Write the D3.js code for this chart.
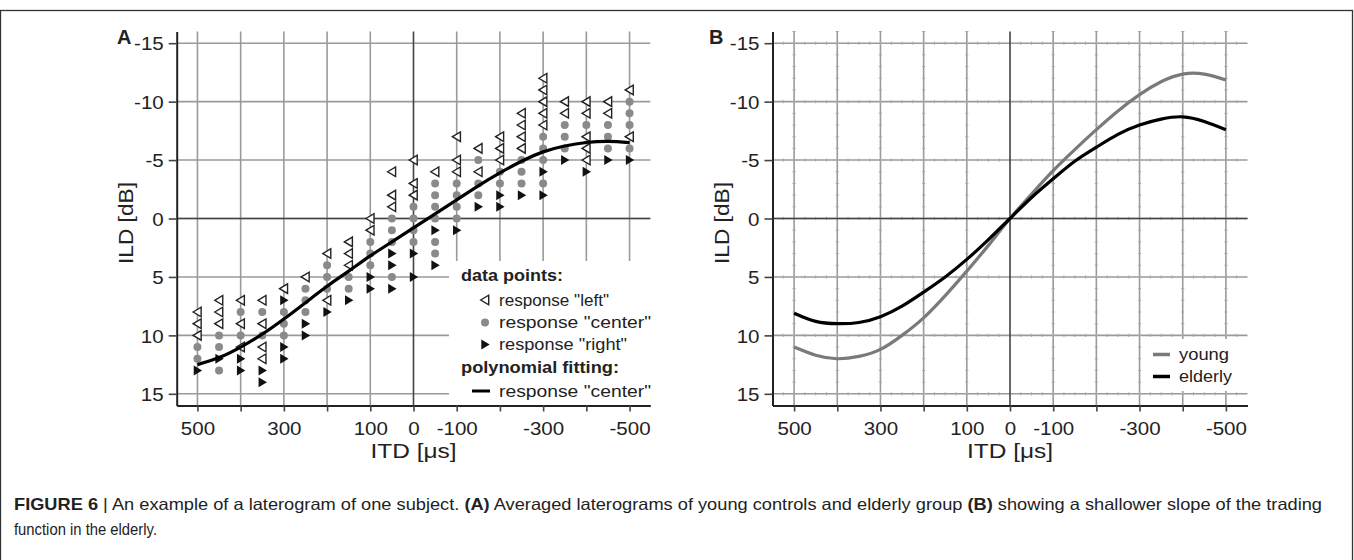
<!DOCTYPE html>
<html><head><meta charset="utf-8">
<script src="https://cdn.jsdelivr.net/npm/d3@7"></script>
<style>
body{margin:0;background:#fff}
svg{display:block}
text{font-family:"Liberation Sans",Arial,Helvetica,sans-serif;fill:#222}
</style>
</head><body>
<svg id="c" width="1354" height="560"></svg>
<script>
// ---------- data ----------
const itdTicks  = [500,400,300,200,100,0,-100,-200,-300,-400,-500];
const itdLabels = ["500","","300","","100","0","-100","","-300","","-500"];
const ildTicks  = [-15,-10,-5,0,5,10,15];
const ildLabels = ["-15","-10","-5","0","5","10","15"];

// Panel A: one column of responses per ITD value
const colITD = [500,450,400,350,300,250,200,150,100,50,0,-50,-100,-150,-200,-250,-300,-350,-400,-450,-500];
const respLeft = [
  [8,9,10],[7,8,9],[7,9,11],[7,9,11,12],[6],[5],[3,7],[2,3,4],[0,1],[-4,-2,-1],[-5,-3,-2],
  [-4],[-7,-5,-4],[-6,-4],[-7,-6,-5],[-9,-8,-7,-6],[-12,-11,-10,-9,-8],[-10,-9],[-10,-9,-7,-6,-5],[-10,-9],[-11,-7]
];
const respCenter = [
  [11,12],[10,11,13],[8,10],[8,10],[8,9,10],[6,7,8],[4,5,6],[5,6],[2,3,4],[0,1,2,5],[-1,0,1,2],
  [-3,-2,-1,0,2,3],[-3,-2,-1,0],[-5,-3,-2],[-4,-3],[-5,-4,-3],[-7,-6,-5,-3],[-8,-7,-6],[-8],[-8,-7,-6],[-10,-9,-8,-6]
];
const respRight = [
  [13],[12],[12,13],[13,14],[7,11,12],[9,10],[8],[7],[5,6],[3,4,6],[3,5],
  [1,4],[1],[-1],[-2,-1],[-2],[-4,-2],[-5],[-4],[-5],[-5]
];
// polynomial fit ("center"), read at each column
const fitILD = [12.5,11.9,11.0,9.9,8.6,7.2,5.8,4.5,3.2,2.0,0.8,-0.4,-1.6,-2.8,-3.9,-4.9,-5.7,-6.2,-6.5,-6.6,-6.5];

// Panel B: averaged laterograms
const bITD    = [500,450,400,350,300,250,200,150,100,50,0,-50,-100,-150,-200,-250,-300,-350,-400,-450,-500];
const young   = [11.0,11.7,12.0,11.8,11.2,10.0,8.5,6.6,4.5,2.3,0,-2.1,-4.1,-5.9,-7.6,-9.2,-10.6,-11.7,-12.35,-12.35,-11.85];
const elderly = [8.1,8.8,9.0,8.9,8.4,7.5,6.3,5.0,3.5,1.8,0,-1.8,-3.4,-4.9,-6.1,-7.2,-8.0,-8.5,-8.7,-8.3,-7.6];

const legendA = ['response "left"','response "center"','response "right"'];
const legendB = ["young","elderly"];

// ---------- drawing ----------
const svg = d3.select("#c");
function stretch(sel, k, fixed){
  sel.each(function(){
    const w = this.getComputedTextLength();
    if (w>0) d3.select(this).attr("textLength", fixed ? fixed : w*k).attr("lengthAdjust","spacingAndGlyphs");
  });
}

// frame
svg.append("rect").attr("x",0.5).attr("y",10.5).attr("width",1352).attr("height",620)
  .attr("fill","none").attr("stroke","#333").attr("stroke-width",1.3);

const yTop = 31.5, yBot = 405.5;
const y = d3.scaleLinear().domain([-16,16]).range([yTop,yBot]);

function panel(x, minor){
  const g = svg.append("g");
  const [xl, xr] = x.range();
  // grid
  g.append("g").selectAll("line").data(itdTicks.filter(d=>d!==0)).join("line")
    .attr("x1",d=>x(d)).attr("x2",d=>x(d)).attr("y1",yTop).attr("y2",yBot)
    .attr("stroke","#9a9a9a").attr("stroke-width",1.6);
  g.append("g").selectAll("line").data(ildTicks).join("line")
    .attr("x1",xl).attr("x2",xr).attr("y1",d=>y(d)).attr("y2",d=>y(d))
    .attr("stroke","#9a9a9a").attr("stroke-width",1.6);
  if (minor){
    const mg = g.append("g").attr("stroke","#a8a8a8").attr("stroke-width",1);
    const hx = d3.range(525,-550,-25);
    ildTicks.forEach(v=>{
      hx.forEach(t=>{ mg.append("line").attr("x1",x(t)).attr("x2",x(t)).attr("y1",y(v)-1.6).attr("y2",y(v)+1.6); });
    });
    const vy = d3.range(-16,16.01,1);
    itdTicks.filter(d=>d!==0).forEach(t=>{
      vy.forEach(v=>{ mg.append("line").attr("x1",x(t)-1.6).attr("x2",x(t)+1.6).attr("y1",y(v)).attr("y2",y(v)); });
    });
  }
  // zero lines
  g.append("line").attr("x1",x(0)).attr("x2",x(0)).attr("y1",yTop).attr("y2",yBot)
    .attr("stroke","#444").attr("stroke-width",1.6);
  g.append("line").attr("x1",xl).attr("x2",xr).attr("y1",y(0)).attr("y2",y(0))
    .attr("stroke","#444").attr("stroke-width",1.6);
  // axes
  const ax = g.append("g").attr("transform",`translate(0,${yBot})`)
    .call(d3.axisBottom(x).tickValues(itdTicks).tickSize(6).tickSizeOuter(0).tickPadding(10)
      .tickFormat((d,i)=>itdLabels[i]));
  const ay = g.append("g").attr("transform",`translate(${xl},0)`)
    .call(d3.axisLeft(y).tickValues(ildTicks).tickSize(8).tickSizeOuter(0).tickPadding(5)
      .tickFormat((d,i)=>ildLabels[i]));
  [ax,ay].forEach(a=>{
    a.select(".domain").attr("stroke","#222").attr("stroke-width",2);
    a.selectAll(".tick line").attr("stroke","#444").attr("stroke-width",1.6);
    a.selectAll("text").attr("font-size",19).attr("fill","#222")
      .attr("font-family","Liberation Sans, Arial, sans-serif");
  });
  ax.selectAll("text").attr("dy","0.71em");
  ay.selectAll("text").attr("dy","0.35em");
  stretch(ax.selectAll("text"),1.08);
  stretch(ay.selectAll("text"),1.08);
  // titles
  const cx = x(0);
  const t1 = g.append("text").attr("x",cx).attr("y",458).attr("text-anchor","middle")
    .attr("font-size",19.5).text("ITD [μs]");
  stretch(t1,1,86);
  const t2 = g.append("text").attr("transform",`translate(${xl-44},223) rotate(-90)`)
    .attr("text-anchor","middle").attr("font-size",19.5).text("ILD [dB]");
  stretch(t2,1,82);
  return g;
}

// ----- Panel A -----
const xA = d3.scaleLinear().domain([548,-548]).range([176.7,650.3]);
const gA = panel(xA,false);
svg.append("text").attr("x",117).attr("y",44).attr("font-size",20).attr("font-weight","bold").text("A");

// legend background
gA.append("rect").attr("x",449).attr("y",261).attr("width",202).attr("height",144).attr("fill","#fff");

const triL = "M-4.3,0L3.7,-4.8L3.7,4.8Z";
const triR = "M4.7,0L-3.7,-5L-3.7,5Z";
const pts = [];
colITD.forEach((t,i)=>{
  respLeft[i].forEach(v=>pts.push({t,v,k:"L"}));
  respCenter[i].forEach(v=>pts.push({t,v,k:"C"}));
  respRight[i].forEach(v=>pts.push({t,v,k:"R"}));
});
const mk = gA.append("g");
mk.selectAll("circle").data(pts.filter(p=>p.k==="C")).join("circle")
  .attr("cx",d=>xA(d.t)).attr("cy",d=>y(d.v)).attr("r",4).attr("fill","#8a8a8a");
mk.selectAll("path.l").data(pts.filter(p=>p.k==="L")).join("path").attr("class","l")
  .attr("d",triL).attr("transform",d=>`translate(${xA(d.t)},${y(d.v)})`)
  .attr("fill","#fff").attr("stroke","#222").attr("stroke-width",1.4);
mk.selectAll("path.r").data(pts.filter(p=>p.k==="R")).join("path").attr("class","r")
  .attr("d",triR).attr("transform",d=>`translate(${xA(d.t)},${y(d.v)})`)
  .attr("fill","#111");

const line = (xs)=>d3.line().x(d=>xs(d[0])).y(d=>y(d[1])).curve(d3.curveNatural);
gA.append("path").datum(colITD.map((t,i)=>[t,fitILD[i]]))
  .attr("d",line(xA)).attr("fill","none").attr("stroke","#000").attr("stroke-width",3.2);

// legend A
const lg = gA.append("g");
stretch(lg.append("text").attr("x",461).attr("y",281).attr("font-size",16).attr("font-weight","bold").text("data points:"),1,102);
const lgY = [300,322.5,344.5];
lg.append("path").attr("d",triL).attr("transform",`translate(485,${lgY[0]})`).attr("fill","#fff").attr("stroke","#222").attr("stroke-width",1.4);
lg.append("circle").attr("cx",485).attr("cy",lgY[1]).attr("r",4).attr("fill","#8a8a8a");
lg.append("path").attr("d",triR).attr("transform",`translate(485,${lgY[2]})`).attr("fill","#111");
const lw = [110,152,128];
legendA.forEach((s,i)=>{
  stretch(lg.append("text").attr("x",499).attr("y",lgY[i]+5.5).attr("font-size",16).text(s),1,lw[i]);
});
stretch(lg.append("text").attr("x",461).attr("y",373).attr("font-size",16).attr("font-weight","bold").text("polynomial fitting:"),1,158);
lg.append("line").attr("x1",472).attr("x2",490).attr("y1",391).attr("y2",391).attr("stroke","#000").attr("stroke-width",3);
stretch(lg.append("text").attr("x",499).attr("y",396.5).attr("font-size",16).text(legendA[1]),1,152);

// ----- Panel B -----
const xB = d3.scaleLinear().domain([550,-550]).range([772.5,1247.5]);
const gB = panel(xB,true);
svg.append("text").attr("x",709).attr("y",44).attr("font-size",20).attr("font-weight","bold").text("B");

gB.append("path").datum(bITD.map((t,i)=>[t,young[i]]))
  .attr("d",line(xB)).attr("fill","none").attr("stroke","#7a7a7a").attr("stroke-width",3.2);
gB.append("path").datum(bITD.map((t,i)=>[t,elderly[i]]))
  .attr("d",line(xB)).attr("fill","none").attr("stroke","#000").attr("stroke-width",3.2);

gB.append("rect").attr("x",1148).attr("y",339).attr("width",90).attr("height",52).attr("fill","#fff");
const lbC = ["#7a7a7a","#000"], lbY = [354.5,376.5], lbW=[50,53];
legendB.forEach((s,i)=>{
  gB.append("line").attr("x1",1153).attr("x2",1170).attr("y1",lbY[i]).attr("y2",lbY[i]).attr("stroke",lbC[i]).attr("stroke-width",3.5);
  stretch(gB.append("text").attr("x",1179).attr("y",lbY[i]+5.5).attr("font-size",16).text(s),1,lbW[i]);
});

// ----- caption -----
const cap = svg.append("text").attr("x",14).attr("y",509.5).attr("font-size",16.5).attr("fill","#231f20");
cap.append("tspan").attr("font-weight","bold").text("FIGURE 6");
cap.append("tspan").text(" | An example of a laterogram of one subject. ");
cap.append("tspan").attr("font-weight","bold").text("(A)");
cap.append("tspan").text(" Averaged laterograms of young controls and elderly group ");
cap.append("tspan").attr("font-weight","bold").text("(B)");
cap.append("tspan").text(" showing a shallower slope of the trading");
cap.attr("textLength",1308).attr("lengthAdjust","spacingAndGlyphs");
const cap2 = svg.append("text").attr("x",14).attr("y",534.5).attr("font-size",16.5).attr("fill","#231f20")
  .text("function in the elderly.");
stretch(cap2,1,143);
</script>
</body></html>
